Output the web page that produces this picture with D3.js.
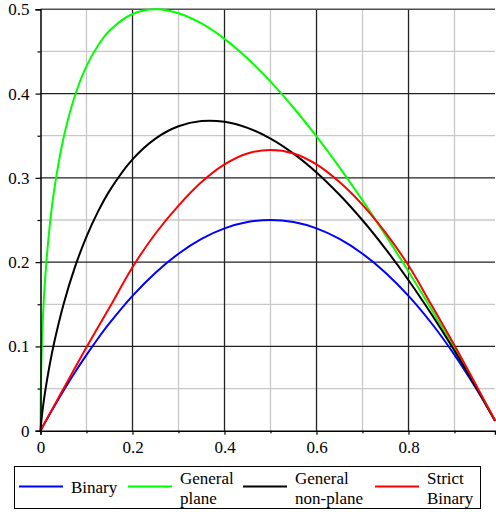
<!DOCTYPE html>
<html>
<head>
<meta charset="utf-8">
<script src="https://cdn.jsdelivr.net/npm/d3@7"></script>
</head>
<body style="margin:0">
<div id="chart"></div>
<script>
// ---------------------------------------------------------------------------
// Data
// ---------------------------------------------------------------------------

const xs = [0, 0.001, 0.003, 0.005, 0.01, 0.02, 0.03, 0.05, 0.075, 0.1, 0.125, 0.15,
    0.2, 0.25, 0.3, 0.35, 0.4, 0.45, 0.5, 0.55, 0.6, 0.65, 0.7, 0.75, 0.8, 0.85, 0.9, 0.95, 0.988];

const binary = [0, 0.001, 0.003, 0.005, 0.0099, 0.0196, 0.0291, 0.0475, 0.0694, 0.09, 0.1094, 0.1275,
    0.16, 0.1875, 0.21, 0.2275, 0.24, 0.2475, 0.25, 0.2475, 0.24, 0.2275, 0.21, 0.1875, 0.16, 0.1275, 0.09, 0.0475, 0.0119];

const generalPlane = [0, 0.0612, 0.1035, 0.1314, 0.18, 0.2428, 0.2864, 0.3472, 0.3977, 0.4325, 0.4571, 0.4746,
    0.4944, 0.5, 0.4954, 0.4832, 0.4649, 0.4416, 0.4142, 0.3832, 0.3492, 0.3125, 0.2733, 0.2321, 0.1889, 0.1439, 0.0974, 0.0494, 0.012];

const generalNonPlane = [0, 0.0069, 0.0174, 0.0265, 0.0461, 0.0782, 0.1052, 0.1498, 0.1943, 0.2303, 0.2599, 0.2846,
    0.3219, 0.3466, 0.3612, 0.3674, 0.3665, 0.3593, 0.3466, 0.3288, 0.3065, 0.28, 0.2497, 0.2158, 0.1785, 0.1381, 0.0948, 0.0487, 0.0119];

const strictBinary = [0, 0.001, 0.003, 0.005, 0.01, 0.02, 0.03, 0.0499, 0.0746, 0.0989, 0.1228, 0.1461,
    0.194, 0.234, 0.267, 0.295, 0.316, 0.329, 0.333, 0.329, 0.316, 0.295, 0.268, 0.235, 0.196, 0.149, 0.101, 0.051, 0.012];

const xMajor = [0, 0.2, 0.4, 0.6, 0.8];
const xMinor = [0.1, 0.3, 0.5, 0.7, 0.9];
const yMajor = [0, 0.1, 0.2, 0.3, 0.4, 0.5];
const yMinor = [0.05, 0.15, 0.25, 0.35, 0.45];

const series = [
    { label: ["Binary"], values: binary, color: "#0000ff" },
    { label: ["General", "plane"], values: generalPlane, color: "#00ff00" },
    { label: ["General", "non-plane"], values: generalNonPlane, color: "#000000" },
    { label: ["Strict", "Binary"], values: strictBinary, color: "#ff0000" }
];

// ---------------------------------------------------------------------------
// Layout
// ---------------------------------------------------------------------------

const width = 496, height = 512;
const plot = { left: 40.5, right: 495, top: 9.3, bottom: 430.7 };

const x = d3.scaleLinear().domain([0, 0.988]).range([plot.left, plot.right]);
const y = d3.scaleLinear().domain([0, 0.5]).range([plot.bottom, plot.top]);

const svg = d3.select("#chart").append("svg")
    .attr("width", width)
    .attr("height", height)
    .style("display", "block");

// Grid — minor first, then major
const grid = svg.append("g");
grid.selectAll("line.vminor").data(xMinor).join("line")
    .attr("x1", d => x(d)).attr("x2", d => x(d))
    .attr("y1", plot.top).attr("y2", plot.bottom)
    .attr("stroke", "#c8c8c8").attr("stroke-width", 1.3);
grid.selectAll("line.hminor").data(yMinor).join("line")
    .attr("x1", plot.left).attr("x2", plot.right)
    .attr("y1", d => y(d)).attr("y2", d => y(d))
    .attr("stroke", "#c8c8c8").attr("stroke-width", 1.3);
grid.selectAll("line.vmajor").data(xMajor.slice(1)).join("line")
    .attr("x1", d => x(d)).attr("x2", d => x(d))
    .attr("y1", plot.top).attr("y2", plot.bottom)
    .attr("stroke", "#222").attr("stroke-width", 1.3);
grid.selectAll("line.hmajor").data(yMajor.slice(1, -1)).join("line")
    .attr("x1", plot.left).attr("x2", plot.right)
    .attr("y1", d => y(d)).attr("y2", d => y(d))
    .attr("stroke", "#222").attr("stroke-width", 1.3);

// Top border at 0.5
svg.append("line")
    .attr("x1", plot.left).attr("x2", plot.right)
    .attr("y1", y(0.5)).attr("y2", y(0.5))
    .attr("stroke", "#505050").attr("stroke-width", 1.5);

// Curves
const line = d3.line()
    .x((d, i) => x(xs[i]))
    .y(d => y(d))
    .curve(d3.curveCatmullRom.alpha(0.5));

svg.append("g").selectAll("path")
    .data(series)
    .join("path")
    .attr("d", d => line(d.values))
    .attr("fill", "none")
    .attr("stroke", d => d.color)
    .attr("stroke-width", 2);

// Axes
const fmt = d => d === 0 ? "0" : d3.format(".1f")(d);

const xAxis = svg.append("g").attr("transform", `translate(0,${plot.bottom})`)
    .call(d3.axisBottom(x).tickValues(xMajor).tickFormat(fmt).tickSize(4).tickPadding(6));
svg.append("g").attr("transform", `translate(0,${plot.bottom})`)
    .call(d3.axisBottom(x).tickValues(xMinor).tickFormat("").tickSize(2.5))
    .select(".domain").remove();

const yAxis = svg.append("g").attr("transform", `translate(${plot.left},0)`)
    .call(d3.axisLeft(y).tickValues(yMajor).tickFormat(fmt).tickSize(5).tickPadding(6));
svg.append("g").attr("transform", `translate(${plot.left},0)`)
    .call(d3.axisLeft(y).tickValues(yMinor).tickFormat("").tickSize(3))
    .select(".domain").remove();

[xAxis, yAxis].forEach(g => {
    g.attr("font-family", null).attr("font-size", null);
    g.select(".domain").attr("stroke", "#000").attr("stroke-width", 1.5);
    g.selectAll("text").attr("fill", "#000");
});
svg.selectAll(".tick line").attr("stroke", "#000").attr("stroke-width", 1.2);

// ---------------------------------------------------------------------------
// Legend
// ---------------------------------------------------------------------------

svg.append("rect")
    .attr("x", 14.5).attr("y", 466.5)
    .attr("width", 466).attr("height", 42)
    .attr("fill", "none").attr("stroke", "#000").attr("stroke-width", 1);

const legendX = [19, 128, 243, 375];
const item = svg.append("g").selectAll("g")
    .data(series)
    .join("g")
    .attr("transform", (d, i) => `translate(${legendX[i]},0)`);

item.append("line")
    .attr("x1", 0).attr("x2", 44)
    .attr("y1", 486.5).attr("y2", 486.5)
    .attr("stroke", d => d.color).attr("stroke-width", 2);

item.append("text")
    .attr("fill", "#000")
    .each(function (d) {
        const t = d3.select(this);
        const base = d.label.length === 1 ? 493 : 484;
        d.label.forEach((s, k) => {
            t.append("tspan").attr("x", 52).attr("y", base + k * 19.5).text(s);
        });
    });

// Serif labels everywhere
svg.selectAll("text")
    .style("font-family", '"Liberation Serif"')
    .style("font-size", "17px");
</script>
</body>
</html>
